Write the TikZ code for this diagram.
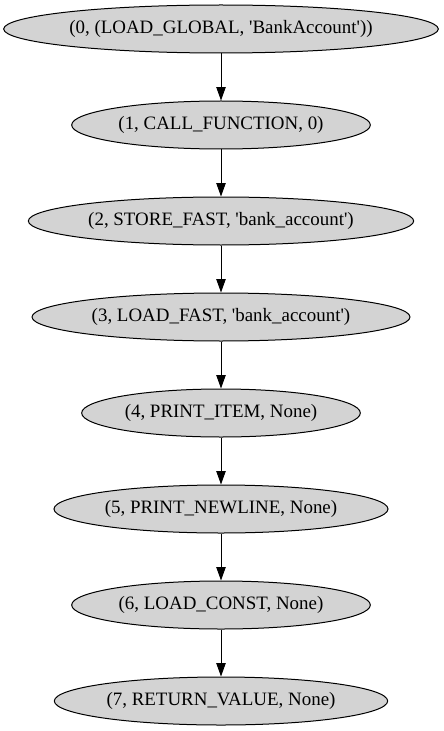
\documentclass[tikz,border=0pt]{standalone}
\usepackage{fontspec}
\setmainfont{Liberation Serif}
\usetikzlibrary{shapes.geometric,arrows.meta}
\tikzset{
  opnode/.style={ellipse, draw=black, fill={rgb,255:red,211;green,211;blue,211}, line width=0.75pt, inner sep=0pt, minimum height=36pt, font=\fontsize{14.2pt}{16pt}\selectfont},
  flow/.style={line width=0.75pt, -{Triangle[length=10pt,width=7pt]}}
}
\newcommand{\optext}[1]{\makebox[0pt]{#1}}
\newcommand{\q}{\textquotesingle}
\begin{document}
\begin{tikzpicture}[x=0.75pt,y=-0.75pt]
\useasboundingbox (0,0) rectangle (443,731);
\node[opnode, minimum width=326pt] (n0) at (221,29) {\optext{(0, (LOAD\_GLOBAL, \q BankAccount\q))}};
\node[opnode, minimum width=224pt] (n1) at (221,125) {\optext{(1, CALL\_FUNCTION, 0)}};
\node[opnode, minimum width=289pt] (n2) at (221,221) {\optext{(2, STORE\_FAST, \q bank\_account\q)}};
\node[opnode, minimum width=283.5pt] (n3) at (221,317) {\optext{(3, LOAD\_FAST, \q bank\_account\q)}};
\node[opnode, minimum width=209pt] (n4) at (221,413) {\optext{(4, PRINT\_ITEM, None)}};
\node[opnode, minimum width=250.5pt] (n5) at (221,509) {\optext{(5, PRINT\_NEWLINE, None)}};
\node[opnode, minimum width=224pt] (n6) at (221,605) {\optext{(6, LOAD\_CONST, None)}};
\node[opnode, minimum width=250pt] (n7) at (221,701) {\optext{(7, RETURN\_VALUE, None)}};
\foreach \a/\b in {n0/n1,n1/n2,n2/n3,n3/n4,n4/n5,n5/n6,n6/n7}
  \draw[flow] (\a) -- (\b);
\end{tikzpicture}
\end{document}
